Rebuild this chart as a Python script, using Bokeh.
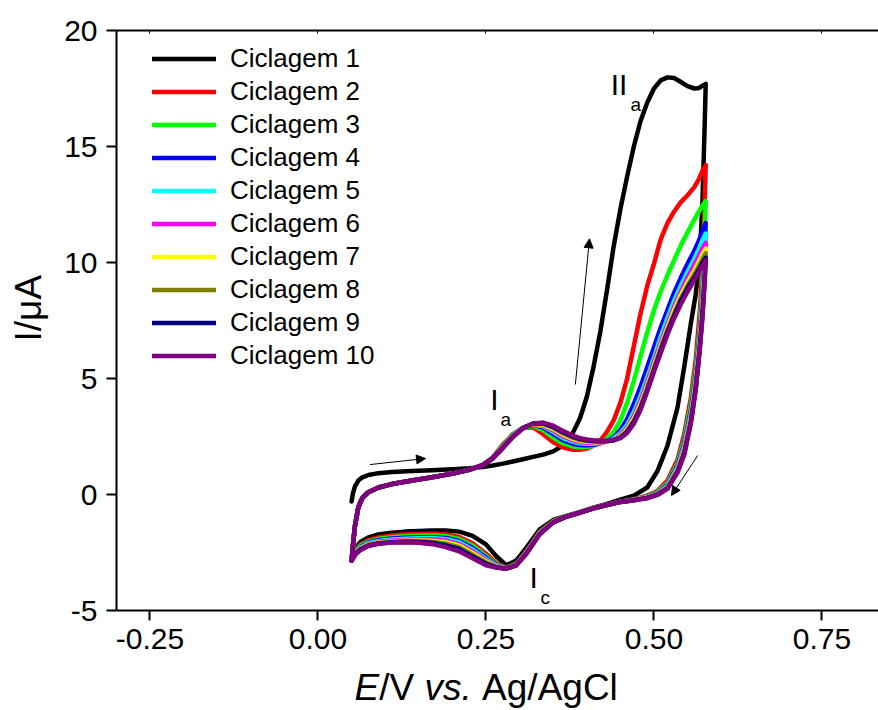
from math import pi
from bokeh.plotting import figure
from bokeh.layouts import row, column
from bokeh.models import (Range1d, LinearAxis, FixedTicker, Label, Arrow,
                          NormalHead, Legend, LegendItem)
from bokeh.embed import file_html
from bokeh.resources import INLINE

# ---------------- data ----------------
SERIES_NAMES = ["Ciclagem 1", "Ciclagem 2", "Ciclagem 3", "Ciclagem 4", "Ciclagem 5",
                "Ciclagem 6", "Ciclagem 7", "Ciclagem 8", "Ciclagem 9", "Ciclagem 10"]
SERIES_COLORS = ["#000000", "#FF0000", "#00FF00", "#0000FF", "#00FFFF",
                 "#FF00FF", "#FFFF00", "#808000", "#000080", "#800080"]

X_TICKS = [-0.25, 0.0, 0.25, 0.5, 0.75]
X_TICK_LABELS = ["-0.25", "0.00", "0.25", "0.50", "0.75"]
Y_TICKS = [-5, 0, 5, 10, 15, 20]
Y_TICK_LABELS = ["-5", "0", "5", "10", "15", "20"]

# forward (anodic) scan, low-potential part
E_FWD_LEFT = [0.050, 0.052, 0.055, 0.060, 0.066, 0.075, 0.090, 0.110, 0.140, 0.170,
              0.200, 0.225, 0.245]
I_FWD_LEFT_CYCLE1 = [-0.3, 0.05, 0.35, 0.6, 0.74, 0.84, 0.92, 0.97, 1.01, 1.05,
                     1.09, 1.13, 1.18]
I_FWD_LEFT_CYCLES2_10 = [-2.85, -2.2, -1.35, -0.55, -0.15, 0.1, 0.3, 0.45, 0.6, 0.74,
                         0.9, 1.06, 1.27]

# forward scan, high-potential part
E_FWD_RIGHT = [0.260, 0.275, 0.290, 0.305, 0.320, 0.335, 0.350, 0.365, 0.380, 0.390,
               0.400, 0.410, 0.420, 0.430, 0.440, 0.450, 0.460, 0.470, 0.480, 0.490,
               0.500, 0.510, 0.520, 0.530, 0.540, 0.550, 0.560, 0.567, 0.572, 0.577]
c1_fwd = [1.25, 1.33, 1.42, 1.52, 1.62, 1.72, 1.86, 2.12, 2.7, 3.3,
          4.2, 5.5, 7.0, 8.8, 10.7, 12.3, 13.7, 15.0, 16.1, 16.9,
          17.5, 17.85, 17.98, 17.95, 17.78, 17.6, 17.5, 17.52, 17.62, 17.7]
c2_fwd = [1.6, 2.15, 2.6, 2.88, 2.9, 2.6, 2.25, 2.02, 1.93, 1.93,
          1.98, 2.1, 2.32, 2.7, 3.2, 3.95, 5.0, 6.4, 7.8, 9.0,
          9.95, 11.0, 11.7, 12.2, 12.6, 12.9, 13.25, 13.6, 13.95, 14.2]
c3_fwd = [1.58, 2.1, 2.58, 2.88, 2.96, 2.78, 2.45, 2.2, 2.07, 2.04,
          2.05, 2.1, 2.22, 2.4, 2.7, 3.2, 3.95, 4.9, 5.95, 7.0,
          7.95, 8.75, 9.45, 10.1, 10.75, 11.3, 11.85, 12.2, 12.45, 12.65]
c4_fwd = [1.57, 2.07, 2.55, 2.88, 3.0, 2.88, 2.6, 2.33, 2.18, 2.13,
          2.12, 2.14, 2.2, 2.3, 2.47, 2.78, 3.25, 3.9, 4.65, 5.5,
          6.35, 7.2, 7.95, 8.7, 9.35, 9.95, 10.5, 10.95, 11.35, 11.7]
c5_fwd = [1.56, 2.05, 2.53, 2.88, 3.02, 2.94, 2.7, 2.43, 2.27, 2.21,
          2.19, 2.19, 2.22, 2.29, 2.41, 2.64, 3.0, 3.55, 4.25, 5.05,
          5.9, 6.8, 7.6, 8.35, 9.0, 9.6, 10.15, 10.6, 10.95, 11.25]
c6_fwd = [1.56, 2.04, 2.52, 2.87, 3.03, 2.98, 2.77, 2.5, 2.33, 2.26,
          2.23, 2.22, 2.23, 2.28, 2.37, 2.56, 2.88, 3.38, 4.05, 4.85,
          5.7, 6.55, 7.35, 8.1, 8.75, 9.35, 9.9, 10.3, 10.6, 10.85]
c7_fwd = [1.55, 2.03, 2.51, 2.87, 3.04, 3.01, 2.83, 2.57, 2.39, 2.31,
          2.27, 2.25, 2.25, 2.28, 2.35, 2.51, 2.8, 3.27, 3.9, 4.7,
          5.55, 6.4, 7.2, 7.95, 8.6, 9.15, 9.65, 10.05, 10.35, 10.6]
c8_fwd = [1.55, 2.02, 2.5, 2.86, 3.05, 3.04, 2.88, 2.63, 2.44, 2.35,
          2.31, 2.28, 2.27, 2.29, 2.34, 2.48, 2.74, 3.18, 3.8, 4.6,
          5.45, 6.3, 7.1, 7.8, 8.45, 9.0, 9.5, 9.85, 10.15, 10.4]
c9_fwd = [1.55, 2.01, 2.49, 2.86, 3.06, 3.07, 2.92, 2.68, 2.48, 2.39,
          2.34, 2.31, 2.29, 2.3, 2.34, 2.45, 2.7, 3.12, 3.72, 4.5,
          5.35, 6.2, 7.0, 7.7, 8.35, 8.9, 9.35, 9.7, 9.98, 10.2]
c10_fwd = [1.55, 2.0, 2.48, 2.85, 3.05, 3.1, 2.97, 2.73, 2.53, 2.43,
           2.37, 2.34, 2.32, 2.32, 2.35, 2.43, 2.65, 3.05, 3.65, 4.45,
           5.3, 6.1, 6.9, 7.6, 8.2, 8.75, 9.25, 9.6, 9.85, 10.1]

# reverse (cathodic) scan
E_REV = [0.577, 0.575, 0.572, 0.568, 0.562, 0.555, 0.545, 0.535, 0.520, 0.505,
         0.490, 0.470, 0.450, 0.430, 0.410, 0.390, 0.370, 0.350, 0.330, 0.310,
         0.295, 0.280, 0.265, 0.250, 0.230, 0.210, 0.190, 0.170, 0.150, 0.130,
         0.110, 0.090, 0.075, 0.063, 0.056, 0.050]
c1_rev = [17.7, 15.5, 12.5, 10.2, 8.6, 7.4, 5.5, 3.75, 2.1, 1.0,
          0.3, -0.05, -0.22, -0.4, -0.57, -0.75, -0.92, -1.1, -1.5, -2.3,
          -2.85, -3.05, -2.65, -2.15, -1.78, -1.6, -1.55, -1.55, -1.57, -1.6,
          -1.65, -1.72, -1.85, -2.05, -2.3, -2.8]
c2_rev = [14.2, 12.2, 9.8, 7.8, 5.8, 4.2, 2.6, 1.5, 0.6, 0.15,
          -0.05, -0.2, -0.3, -0.43, -0.59, -0.77, -0.94, -1.14, -1.6, -2.45,
          -2.98, -3.15, -2.95, -2.55, -2.1, -1.83, -1.72, -1.69, -1.7, -1.72,
          -1.77, -1.85, -1.97, -2.15, -2.4, -2.85]
c3_rev = [12.65, 11.0, 9.0, 7.2, 5.4, 3.9, 2.35, 1.35, 0.5, 0.1,
          -0.08, -0.22, -0.31, -0.44, -0.59, -0.77, -0.94, -1.16, -1.63, -2.48,
          -3.0, -3.17, -3.0, -2.65, -2.2, -1.92, -1.8, -1.77, -1.78, -1.8,
          -1.84, -1.91, -2.03, -2.2, -2.45, -2.85]
c4_rev = [11.7, 10.2, 8.5, 6.9, 5.1, 3.65, 2.2, 1.25, 0.42, 0.06,
          -0.1, -0.23, -0.31, -0.44, -0.6, -0.77, -0.95, -1.17, -1.65, -2.5,
          -3.02, -3.18, -3.03, -2.72, -2.3, -2.0, -1.87, -1.83, -1.84, -1.86,
          -1.9, -1.96, -2.07, -2.25, -2.48, -2.85]
c5_rev = [11.25, 9.9, 8.3, 6.7, 4.95, 3.5, 2.1, 1.18, 0.38, 0.04,
          -0.11, -0.23, -0.32, -0.45, -0.6, -0.78, -0.95, -1.18, -1.66, -2.51,
          -3.03, -3.19, -3.06, -2.78, -2.38, -2.06, -1.93, -1.88, -1.89, -1.91,
          -1.94, -2.0, -2.1, -2.28, -2.5, -2.85]
c6_rev = [10.85, 9.6, 8.1, 6.55, 4.85, 3.4, 2.0, 1.12, 0.34, 0.03,
          -0.12, -0.24, -0.32, -0.45, -0.6, -0.78, -0.95, -1.19, -1.67, -2.52,
          -3.04, -3.19, -3.08, -2.83, -2.45, -2.13, -1.99, -1.93, -1.94, -1.96,
          -1.98, -2.04, -2.14, -2.31, -2.52, -2.85]
c7_rev = [10.6, 9.4, 7.95, 6.45, 4.75, 3.3, 1.92, 1.06, 0.31, 0.01,
          -0.13, -0.24, -0.32, -0.45, -0.6, -0.78, -0.95, -1.19, -1.68, -2.53,
          -3.04, -3.2, -3.1, -2.88, -2.52, -2.2, -2.06, -1.99, -1.98, -1.99,
          -2.01, -2.07, -2.16, -2.33, -2.53, -2.85]
c8_rev = [10.4, 9.25, 7.8, 6.35, 4.65, 3.22, 1.85, 1.02, 0.28, 0.0,
          -0.14, -0.25, -0.32, -0.45, -0.6, -0.78, -0.95, -1.2, -1.69, -2.54,
          -3.05, -3.2, -3.12, -2.93, -2.6, -2.27, -2.12, -2.04, -2.02, -2.02,
          -2.04, -2.09, -2.18, -2.35, -2.54, -2.85]
c9_rev = [10.2, 9.1, 7.7, 6.25, 4.55, 3.15, 1.77, 0.98, 0.26, -0.01,
          -0.15, -0.25, -0.32, -0.45, -0.6, -0.78, -0.95, -1.2, -1.7, -2.55,
          -3.05, -3.2, -3.14, -2.98, -2.67, -2.35, -2.19, -2.09, -2.05, -2.04,
          -2.06, -2.11, -2.2, -2.37, -2.56, -2.85]
c10_rev = [10.1, 9.0, 7.6, 6.2, 4.5, 3.1, 1.7, 0.95, 0.25, -0.02,
           -0.15, -0.25, -0.32, -0.45, -0.6, -0.78, -0.95, -1.2, -1.7, -2.55,
           -3.05, -3.2, -3.15, -3.05, -2.75, -2.45, -2.27, -2.14, -2.08, -2.06,
           -2.07, -2.12, -2.22, -2.4, -2.58, -2.85]

FWD = [c1_fwd, c2_fwd, c3_fwd, c4_fwd, c5_fwd, c6_fwd, c7_fwd, c8_fwd, c9_fwd, c10_fwd]
REV = [c1_rev, c2_rev, c3_rev, c4_rev, c5_rev, c6_rev, c7_rev, c8_rev, c9_rev, c10_rev]

FONT = "Liberation Sans"
LEFT_W = 50      # strip holding the y-axis title
BOTTOM_H = 50    # strip holding the x-axis title

# ---------------- main figure ----------------
p = figure(width=878 - LEFT_W, height=710 - BOTTOM_H,
           x_range=Range1d(-0.29985, 0.83408), y_range=Range1d(-5, 20),
           output_backend="svg", toolbar_location=None,
           min_border_left=116 - LEFT_W, min_border_right=0,
           min_border_top=30, min_border_bottom=50)
p.outline_line_color = None
p.grid.visible = False
p.background_fill_color = "white"
p.border_fill_color = "white"

xa = p.xaxis[0]
xa.ticker = FixedTicker(ticks=X_TICKS)
xa.major_label_overrides = {t: s for t, s in zip(X_TICKS, X_TICK_LABELS)}
xa.axis_line_width = 2
xa.major_tick_line_width = 2
xa.major_tick_out = 10
xa.major_tick_in = 0
xa.minor_tick_line_color = None
xa.major_label_standoff = 8
xa.major_label_text_font = FONT
xa.major_label_text_font_size = "30px"
xa.major_label_text_color = "black"

ya = p.yaxis[0]
ya.ticker = FixedTicker(ticks=Y_TICKS)
ya.major_label_overrides = {t: s for t, s in zip(Y_TICKS, Y_TICK_LABELS)}
ya.axis_line_width = 2
ya.major_tick_line_width = 2
ya.major_tick_out = 10
ya.major_tick_in = 0
ya.minor_tick_line_color = None
ya.major_label_standoff = 9
ya.major_label_text_font = FONT
ya.major_label_text_font_size = "30px"
ya.major_label_text_color = "black"

top = LinearAxis(ticker=FixedTicker(ticks=X_TICKS),
                 major_label_overrides={t: "" for t in X_TICKS},
                 major_label_text_font_size="0px", major_label_standoff=0,
                 axis_line_width=2, major_tick_in=3, major_tick_out=0,
                 major_tick_line_width=1, minor_tick_line_color=None)
p.add_layout(top, "above")

renderers = []
for i in range(10):
    left_y = I_FWD_LEFT_CYCLE1 if i == 0 else I_FWD_LEFT_CYCLES2_10
    xs = E_FWD_LEFT + E_FWD_RIGHT + E_REV
    ys = left_y + FWD[i] + REV[i]
    r = p.line(xs, ys, line_color=SERIES_COLORS[i], line_width=4.5,
               line_join="round", line_cap="round")
    renderers.append(r)

legend = Legend(items=[LegendItem(label=n, renderers=[r]) for n, r in zip(SERIES_NAMES, renderers)],
                location=(31, 233), glyph_width=64, glyph_height=33, label_height=33,
                label_standoff=14, spacing=0, padding=5, margin=0,
                border_line_alpha=0, background_fill_alpha=0,
                label_text_font=FONT, label_text_font_size="26px",
                label_text_color="black", label_text_baseline="middle")
p.add_layout(legend)


def lab(fig, x, y, t, size, style="normal", align="left", baseline="alphabetic", angle=0.0):
    fig.add_layout(Label(x=x, y=y, text=t, text_font=FONT, text_font_size=size,
                         text_font_style=style, text_align=align, text_baseline=baseline,
                         angle=angle, text_color="black"))


# peak labels
lab(p, 0.4355, 17.67, "II", "30px")
lab(p, 0.465, 16.81, "a", "19px")
lab(p, 0.2565, 4.09, "I", "30px")
lab(p, 0.2716, 3.23, "a", "19px")
lab(p, 0.3147, -3.58, "I", "30px")
lab(p, 0.331, -4.44, "c", "19px")

# scan-direction arrows
for xs_, ys_, xe_, ye_ in [(0.0774, 1.29, 0.160, 1.55),
                           (0.383, 4.74, 0.404, 11.02),
                           (0.565, 1.68, 0.526, -0.04)]:
    p.add_layout(Arrow(end=NormalHead(size=9, fill_color="black", line_color="black", line_width=1),
                       x_start=xs_, y_start=ys_, x_end=xe_, y_end=ye_,
                       line_width=1, line_color="black"))

# ---------------- strip for the y-axis title ----------------
left = figure(width=LEFT_W, height=710 - BOTTOM_H, x_range=Range1d(0, LEFT_W),
              y_range=Range1d(0, 710 - BOTTOM_H), x_axis_type=None, y_axis_type=None,
              output_backend="svg", toolbar_location=None, min_border=0)
left.outline_line_color = None
left.grid.visible = False
lab(left, 28, 710 - BOTTOM_H - 316, "I/\u03bcA", "37px", align="center",
    baseline="middle", angle=pi / 2)

# ---------------- strip for the x-axis title ----------------
bottom = figure(width=878, height=BOTTOM_H, x_range=Range1d(0, 878),
                y_range=Range1d(0, BOTTOM_H), x_axis_type=None, y_axis_type=None,
                output_backend="svg", toolbar_location=None, min_border=0)
bottom.outline_line_color = None
bottom.grid.visible = False
base = 23
lab(bottom, 354, base, "E", "37px", style="italic")
lab(bottom, 378.7, base, "/V", "37px")
lab(bottom, 424, base, "vs.", "37px", style="italic")
lab(bottom, 481.6, base, "Ag/AgCl", "37px")

layout = column(row(left, p), bottom)
open("out.html", "w").write(file_html(layout, INLINE))
